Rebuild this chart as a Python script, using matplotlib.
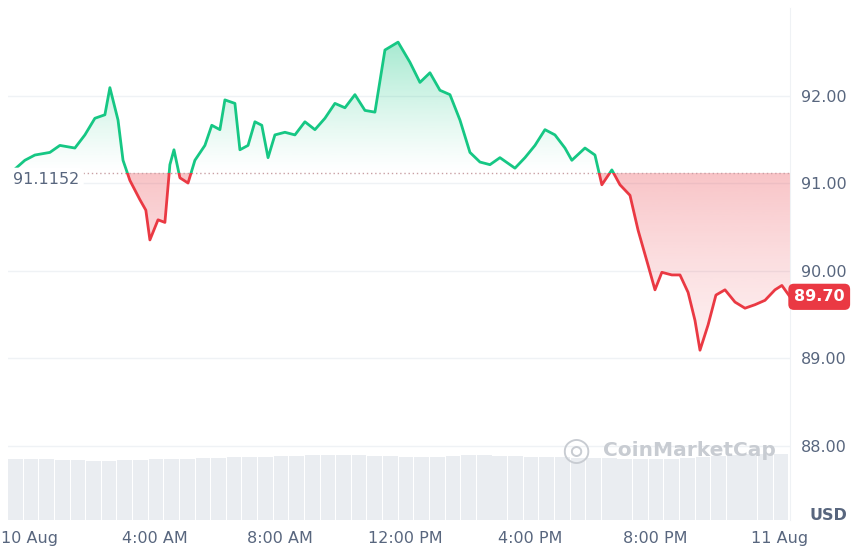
import numpy as np
import matplotlib
matplotlib.use("Agg")
import matplotlib.pyplot as plt
from matplotlib.patches import Rectangle, PathPatch
from matplotlib.path import Path

# hours since 10 Aug 00:00, price in USD
hours = [-0.70, -0.16, 0.16, 0.64, 0.96, 1.44, 1.76, 2.08, 2.40, 2.56, 2.82, 2.98, 3.20, 3.52,
         3.71, 3.84, 4.10, 4.32, 4.48, 4.61, 4.80, 5.06, 5.28, 5.60, 5.82, 6.08, 6.24, 6.56,
         6.72, 6.98, 7.20, 7.42, 7.62, 7.84, 8.16, 8.48, 8.80, 9.12, 9.44, 9.76, 10.08, 10.40,
         10.72, 11.04, 11.36, 11.78, 12.16, 12.48, 12.80, 13.12, 13.44, 13.76, 14.08, 14.40,
         14.72, 15.04, 15.52, 15.84, 16.16, 16.48, 16.80, 17.12, 17.34, 17.76, 18.08, 18.30,
         18.62, 18.88, 19.20, 19.46, 19.78, 20.00, 20.22, 20.54, 20.80, 21.06, 21.28, 21.44,
         21.70, 21.95, 22.24, 22.56, 22.88, 23.20, 23.52, 23.84, 24.06, 24.32]
price = [91.09, 91.26, 91.32, 91.35, 91.43, 91.40, 91.55, 91.74, 91.78, 92.09, 91.72, 91.26,
         91.03, 90.81, 90.69, 90.35, 90.58, 90.55, 91.21, 91.38, 91.06, 91.00, 91.26, 91.43,
         91.66, 91.61, 91.95, 91.91, 91.38, 91.43, 91.70, 91.66, 91.29, 91.55, 91.58, 91.55,
         91.70, 91.61, 91.74, 91.91, 91.86, 92.01, 91.83, 91.81, 92.52, 92.61, 92.38, 92.15,
         92.26, 92.06, 92.01, 91.72, 91.35, 91.24, 91.21, 91.29, 91.17, 91.29, 91.43, 91.61,
         91.55, 91.40, 91.26, 91.40, 91.32, 90.98, 91.15, 90.98, 90.86, 90.46, 90.06, 89.78,
         89.98, 89.95, 89.95, 89.75, 89.43, 89.09, 89.38, 89.72, 89.78, 89.64, 89.57, 89.61,
         89.66, 89.78, 89.83, 89.70]
baseline = 91.1152
vol_hours = np.arange(-0.7, 24.3, 0.5)
volume = [58, 58, 58, 57, 57, 56, 56, 57, 57, 58, 58, 58, 59, 59, 60, 60, 60, 61, 61, 62,
          62, 62, 62, 61, 61, 60, 60, 60, 61, 62, 62, 61, 61, 60, 60, 60, 59, 59, 59, 58,
          58, 58, 58, 59, 60, 61, 62, 63, 63, 63]

GREEN, RED, GRID, TXT = "#16c784", "#ea3943", "#eff2f5", "#58667e"

fig = plt.figure(figsize=(8.59, 5.53), dpi=100)
ax = fig.add_axes([8 / 859, 33 / 553, 782 / 859, 512 / 553])
x0, x1, y0, y1 = -0.7, 24.32, 87.15, 93.0
ax.set_xlim(x0, x1); ax.set_ylim(y0, y1)

# volume bars on a twin axis
axv = ax.twinx()
axv.bar(vol_hours, volume, width=0.47, align="edge", color="#eaedf1", lw=0)
axv.set_ylim(0, 490); axv.axis("off")
ax.set_zorder(axv.get_zorder() + 1); ax.patch.set_visible(False)

for v in [88, 89, 90, 91, 92]:
    ax.axhline(v, color=GRID, lw=1, zorder=0)

# gradient fills
h = np.array(hours); p = np.array(price)
for above, col, ext in [(True, GREEN, (baseline, y1)), (False, RED, (y0, baseline))]:
    poly = ax.fill_between(h, p, baseline, where=(p >= baseline) if above else (p <= baseline),
                           interpolate=True, color="none", lw=0)
    clip_path = Path.make_compound_path(*poly.get_paths())
    patch = PathPatch(clip_path, transform=ax.transData, fc="none", ec="none")
    ax.add_patch(patch)
    g = np.linspace(0, 1, 256)[:, None]
    rgba = np.zeros((256, 1, 4)); rgba[..., :3] = matplotlib.colors.to_rgb(col)
    rgba[..., 3] = (g ** 1.2 * 0.5) if above else (g ** 2 * 0.3)
    im = ax.imshow(rgba, extent=(x0, x1, ext[0], ext[1]), origin="lower", aspect="auto", zorder=1)
    im.set_clip_path(patch)

ax.set_xlim(x0, x1); ax.set_ylim(y0, y1)

# price line coloured by side of baseline
for col, (lo, hi) in [(GREEN, (baseline, y1)), (RED, (y0, baseline))]:
    ln, = ax.plot(hours, price, color=col, lw=2, zorder=3, solid_joinstyle="round")
    clip = Rectangle((x0, lo), x1 - x0, hi - lo, transform=ax.transData)
    ln.set_clip_path(clip)

ax.axhline(baseline, color="#c9a0a4", ls=(0, (1, 2)), lw=1, zorder=2)

ax.set_xticks([0, 4, 8, 12, 16, 20, 24])
ax.set_xticklabels(["10 Aug", "4:00 AM", "8:00 AM", "12:00 PM", "4:00 PM", "8:00 PM", "11 Aug"])
ax.yaxis.tick_right()
ax.set_yticks([88, 89, 90, 91, 92])
ax.set_yticklabels([f"{v:.2f}" for v in [88, 89, 90, 91, 92]])
ax.tick_params(length=0, labelsize=11.5, colors=TXT, pad=8)
for s in ax.spines.values():
    s.set_visible(False)
ax.spines["right"].set_visible(True); ax.spines["right"].set_color(GRID)

ax.text(-0.55, baseline - 0.08, f"{baseline:.4f}", ha="left", va="center", fontsize=11.5,
        color=TXT, bbox=dict(boxstyle="round,pad=0.3", fc="white", ec="none"), zorder=5)
ax.text(1.005, (price[-1] - y0) / (y1 - y0), f"{price[-1]:.2f}", transform=ax.transAxes,
        ha="left", va="center", fontsize=11.5, color="white", fontweight="bold",
        bbox=dict(boxstyle="round,pad=0.35", fc=RED, ec="none"), zorder=5)
fig.text(828 / 859, 1 - 516 / 553, "USD", ha="center", va="center", fontsize=11.5,
         color=TXT, fontweight="bold")
fig.text(603 / 859, 1 - 451 / 553, "CoinMarketCap", ha="left", va="center", fontsize=14.5,
         color="#c8ccd2", fontweight="bold")
fig.text(576 / 859, 1 - 451 / 553, "\u25ce", ha="center", va="center", fontsize=24, color="#c8ccd2")

fig.savefig("out.png", dpi=100)
